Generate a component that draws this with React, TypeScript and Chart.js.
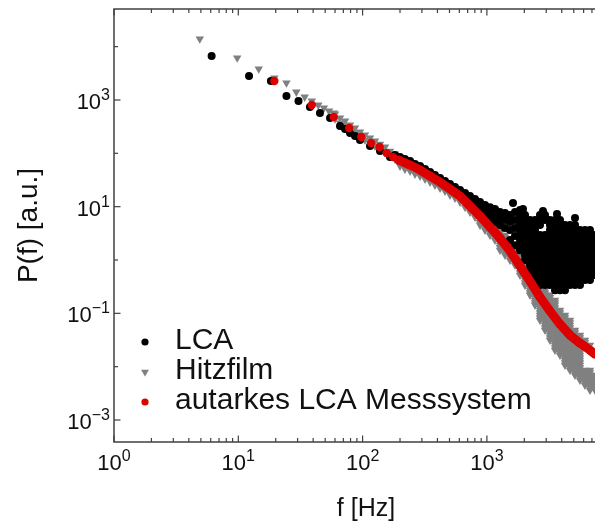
import { useEffect, useRef } from 'react';
import { Chart, registerables } from 'chart.js';

Chart.register(...registerables);

const FONT = '"Liberation Sans", Arial, Helvetica, sans-serif';
const BLACK = '#000000';
const GRAY = '#808080';
const RED = '#dd0000';
const AXIS = '#404040';

// ---- axes ----
const X_MIN = 1;
const X_MAX = 10000;
const Y_MIN = 3.87e-4;
const Y_MAX = 5.08e4;
const xMajorTicks = [1, 10, 100, 1000, 10000];
const xMinorTicks = [2, 3, 4, 5, 6, 7, 8, 9, 20, 30, 40, 50, 60, 70, 80, 90, 200, 300, 400, 500, 600, 700, 800, 900, 2000, 3000, 4000, 5000, 6000, 7000, 8000, 9000];
const xTickValues = [1, 10, 100, 1000];
const xTickExponents = ['0', '1', '2', '3'];
const yTicks = [1e-3, 1e-2, 1e-1, 1, 10, 100, 1000, 10000];
const yTickValues = [1e-3, 1e-1, 10, 1000];
const yTickExponents = ['\u22123', '\u22121', '1', '3'];
const xTitle = 'f [Hz]';
const yTitle = 'P(f) [a.u.]';
const seriesLabels = ['LCA', 'Hitzfilm', 'autarkes LCA Messsystem'];

// ---- LCA (black dots) ----
const lcaLowFreq = [6.1, 12.2, 18.3, 24.4, 30.5];
const lcaLowPower = [6690, 2820, 2270, 1190, 958];
const lcaBandFreq = [37.7, 45.4, 54.7, 65.8, 72.2, 79.2, 86.9, 95.3, 114.7, 138, 166, 182, 200, 219, 241, 264, 290, 318, 349, 382, 420, 460, 505, 554, 608, 667, 731, 802, 880, 965, 1059, 1162, 1275, 1398, 1534, 1622, 1683, 1951];
const lcaBandPower = [
  [738], [570], [460], [326], [286], [241], [212], [178], [137], [110], [85.2], [92.9], [85.2], [78.2], [71.7], [63.0], [57.8], [50.7], [44.6], [39.2], [34.4], [30.3],
  [26.5, 22.3], [23.3, 19.6], [20.5, 16.5], [18.0, 14.5], [15.8, 12.7], [13.9, 10.7],
  [12.2, 9.4, 7.58], [10.7, 8.63, 6.95], [9.8, 7.58, 5.61], [9.0, 6.95, 5.15], [7.92, 6.11, 4.52], [7.58, 5.61, 3.97],
  [6.95, 5.15, 3.64, 2.36], [11.7], [7.92, 5.61, 3.97, 2.81, 1.9], [9.01],
];
const lcaCloudFreq = [1847, 2026, 2222, 2438, 2674, 2826, 2934, 3218, 3531, 3664, 3873, 4249, 4661, 5114, 5610, 6154, 6751, 7407];
const lcaCloudPower = [
  [8.63, 6.95, 5.61, 4.52, 3.64, 2.93, 2.36, 1.9, 1.53],
  [6.95, 5.61, 4.52, 3.64, 2.93, 2.36, 1.9, 1.53, 1.24, 0.996],
  [5.61, 4.52, 3.64, 2.93, 2.36, 1.9, 1.53, 1.24, 0.996, 0.802, 0.647],
  [5.61, 4.52, 3.64, 2.93, 2.36, 1.9, 1.53, 1.24, 0.996, 0.802, 0.647, 0.521, 0.42],
  [6.95, 5.61, 4.52, 2.93, 2.36, 1.9, 1.53, 1.24, 0.996, 0.802, 0.647, 0.521, 0.42, 0.338],
  [8.27],
  [6.95, 5.61, 2.93, 2.36, 1.9, 1.53, 1.24, 0.996, 0.802, 0.647, 0.521, 0.42, 0.338],
  [5.61, 4.52, 3.64, 2.93, 2.36, 1.9, 1.53, 1.24, 0.996, 0.802, 0.647, 0.521, 0.42, 0.338],
  [5.61, 4.52, 3.64, 2.93, 2.36, 1.9, 1.53, 1.24, 0.996, 0.802, 0.647, 0.521, 0.42, 0.338, 0.272],
  [7.26],
  [5.61, 4.52, 3.64, 2.93, 2.36, 1.9, 1.53, 1.24, 0.996, 0.802, 0.647, 0.521, 0.42, 0.338, 0.272],
  [4.52, 3.64, 2.93, 2.36, 1.9, 1.53, 1.24, 0.996, 0.802, 0.647, 0.521, 0.42, 0.338, 0.272],
  [4.52, 3.64, 2.93, 2.36, 1.9, 1.53, 1.24, 0.996, 0.802, 0.647, 0.521, 0.42, 0.338],
  [6.12, 4.52, 3.64, 2.93, 2.36, 1.9, 1.53, 1.24, 0.996, 0.802, 0.647, 0.521, 0.42, 0.338],
  [3.64, 2.93, 2.36, 1.9, 1.53, 1.24, 0.996, 0.802, 0.647, 0.521, 0.42, 0.338],
  [3.64, 2.93, 2.36, 1.9, 1.53, 1.24, 0.996, 0.802, 0.647, 0.521, 0.42],
  [3.64, 2.93, 2.36, 1.9, 1.53, 1.24, 0.996, 0.802, 0.647, 0.521, 0.42],
  [2.93, 2.36, 1.9, 1.53, 1.24, 0.996, 0.802, 0.647, 0.521],
];

// ---- Hitzfilm (gray triangles) ----
const hitzLowFreq = [4.9, 9.8, 14.6, 19.5, 24.4, 29.3, 34.2, 39, 44, 48.8, 53.7, 58.6];
const hitzLowPower = [13950, 6140, 3820, 2590, 2085, 1413, 1138, 958, 805, 708, 622, 571];
const hitzThinFreq = [60, 65.8, 72.2, 79.2, 86.9, 95.3, 104.5, 114.7, 125.8, 138, 151.4, 166, 182, 200, 219, 241, 264, 290, 318, 349, 382, 420, 460, 505, 554, 608, 667, 731, 802];
const hitzThinPower = [
  [546, 441], [460, 371], [404, 326], [340, 274], [299, 241], [251, 203], [221, 178], [194, 156], [170, 137], [149, 120], [131, 105.5], [110, 89], [97, 78.2],
  [68.7, 57.8], [60.3, 50.7], [55.3, 46.5], [48.6, 40.9], [44.6, 37.5], [39.2, 33.0], [34.4, 29.0], [30.3, 25.4], [26.5, 22.3], [23.3, 19.6], [19.6, 16.5], [17.2, 14.5], [14.5, 12.2], [11.7, 9.8], [9.4, 7.92], [7.58, 6.38],
];
const hitzBroadFreq = [880, 965, 1059, 1162, 1275, 1398, 1534, 1683, 1847, 2026, 2222, 2438, 2674, 2934, 3218, 3531, 3873, 4249, 4661, 5114, 5610, 6154, 6751, 7407];
const hitzBroadPower = [
  [8.63, 6.95, 5.61, 4.52],
  [6.95, 5.61, 4.52, 3.64],
  [5.61, 4.52, 3.64, 2.93],
  [4.52, 3.64, 2.93, 2.36],
  [3.64, 2.93, 2.36, 1.9, 1.53],
  [2.93, 2.36, 1.9, 1.53, 1.24],
  [2.36, 1.9, 1.53, 1.24, 0.996],
  [1.9, 1.53, 1.24, 0.996, 0.802],
  [1.24, 0.996, 0.802, 0.647, 0.521],
  [0.996, 0.802, 0.647, 0.521, 0.42, 0.338],
  [0.802, 0.647, 0.521, 0.42, 0.338, 0.272, 0.22],
  [0.647, 0.521, 0.42, 0.338, 0.272, 0.22, 0.177, 0.143],
  [0.42, 0.338, 0.272, 0.22, 0.177, 0.143, 0.115, 0.0925, 0.0745],
  [0.338, 0.272, 0.22, 0.177, 0.143, 0.115, 0.0925, 0.0745, 0.0601, 0.0484],
  [0.22, 0.177, 0.143, 0.115, 0.0925, 0.0745, 0.0601, 0.0484, 0.039, 0.0314],
  [0.177, 0.143, 0.115, 0.0925, 0.0745, 0.0601, 0.0484, 0.039, 0.0314, 0.0253, 0.0204],
  [0.115, 0.0925, 0.0745, 0.0601, 0.0484, 0.039, 0.0314, 0.0253, 0.0204, 0.0164],
  [0.0925, 0.0745, 0.0601, 0.0484, 0.039, 0.0314, 0.0253, 0.0204, 0.0164, 0.0132, 0.0107],
  [0.0745, 0.0601, 0.0484, 0.039, 0.0314, 0.0253, 0.0204, 0.0164, 0.0132, 0.0107, 0.00859],
  [0.0484, 0.039, 0.0314, 0.0253, 0.0204, 0.0164, 0.0132, 0.0107, 0.00859, 0.00693],
  [0.039, 0.0314, 0.0253, 0.0204, 0.0164, 0.0132, 0.0107, 0.00859, 0.00693, 0.00558],
  [0.0314, 0.0253, 0.00859, 0.00693, 0.00558, 0.0045],
  [0.0253, 0.00859, 0.00693, 0.00558, 0.0045, 0.00362],
  [0.00693, 0.00558, 0.0045, 0.00362],
];
const hitzBroadMidPower = [
  [7.75, 6.24, 5.04],
  [6.24, 5.04, 4.06],
  [5.04, 4.06, 3.27],
  [4.06, 3.27, 2.63],
  [3.27, 2.63, 2.12, 1.71],
  [2.63, 2.12, 1.71, 1.37],
  [2.12, 1.71, 1.37, 1.11],
  [1.71, 1.37, 1.11, 0.894],
  [1.11, 0.894, 0.72, 0.581],
  [0.894, 0.72, 0.581, 0.468, 0.377],
  [0.72, 0.581, 0.468, 0.377, 0.303, 0.244],
  [0.581, 0.468, 0.377, 0.303, 0.244, 0.198, 0.159],
  [0.377, 0.303, 0.244, 0.198, 0.159, 0.128, 0.103, 0.083],
  [0.303, 0.244, 0.198, 0.159, 0.128, 0.103, 0.083, 0.0669, 0.054],
  [0.198, 0.159, 0.128, 0.103, 0.083, 0.0669, 0.054, 0.0435, 0.035],
  [0.159, 0.128, 0.103, 0.083, 0.0669, 0.054, 0.0435, 0.035, 0.0282, 0.0227],
  [0.103, 0.083, 0.0669, 0.054, 0.0435, 0.035, 0.0282, 0.0227, 0.0183],
  [0.083, 0.0669, 0.054, 0.0435, 0.035, 0.0282, 0.0227, 0.0183, 0.0147, 0.0119],
  [0.0669, 0.054, 0.0435, 0.035, 0.0282, 0.0227, 0.0183, 0.0147, 0.0119, 0.00959],
  [0.0435, 0.035, 0.0282, 0.0227, 0.0183, 0.0147, 0.0119, 0.00959, 0.00771],
  [0.035, 0.0282, 0.0227, 0.0183, 0.0147, 0.0119, 0.00959, 0.00771, 0.00622],
  [0.0282, 0.00771, 0.00622, 0.00501],
  [0.00771, 0.00622, 0.00501, 0.00404],
  [0.00622, 0.00501, 0.00404],
];

// ---- autarkes LCA Messsystem (red dots) ----
const redFreq = [19.5, 39, 58.5, 78, 97.6, 117, 137, 156, 176, 195, 241, 290, 349, 420, 505, 608, 731, 880, 1059, 1275, 1534, 1847, 2222, 2674, 3218, 3873, 4661, 5610, 6751, 7407];
const redPower = [2270, 805, 480, 298, 202, 156, 131, 101, 85, 74.9, 60.3, 48.6, 37.5, 28.9, 21.4, 15.8, 10.3, 6.66, 4.14, 2.57, 1.47, 0.768, 0.401, 0.201, 0.11, 0.0627, 0.039, 0.0276, 0.0204, 0.0172];

const pairs = (f: number[], p: number[]) => f.map((x, i) => ({ x, y: p[i] }));
const columns = (f: number[], p: number[][]) => f.flatMap((x, i) => p[i].map((y) => ({ x, y })));

function drawPower(ctx: CanvasRenderingContext2D, exp: string, x: number, baseline: number, align: 'center' | 'right') {
  const base = `22px ${FONT}`;
  const sup = `16px ${FONT}`;
  ctx.font = base;
  const wb = ctx.measureText('10').width;
  ctx.font = sup;
  const we = ctx.measureText(exp).width;
  const total = wb + we;
  const start = align === 'center' ? x - total / 2 : x - total;
  ctx.textAlign = 'left';
  ctx.textBaseline = 'alphabetic';
  ctx.fillStyle = '#111';
  ctx.font = base;
  ctx.fillText('10', start, baseline);
  ctx.font = sup;
  ctx.fillText(exp, start + wb, baseline - 9);
}

const decor = {
  id: 'decor',
  afterDatasetsDraw(chart: any) {
    const { ctx, chartArea: a, scales } = chart;
    const xs = scales.x;
    const ys = scales.y;
    ctx.save();
    // frame
    ctx.strokeStyle = AXIS;
    ctx.lineWidth = 1.5;
    ctx.beginPath();
    ctx.rect(a.left, a.top, a.right - a.left, a.bottom - a.top);
    ctx.stroke();
    // x ticks (inside, bottom and top)
    ctx.lineWidth = 1.2;
    const xt = (v: number, len: number) => {
      const px = xs.getPixelForValue(v);
      ctx.beginPath();
      ctx.moveTo(px, a.bottom);
      ctx.lineTo(px, a.bottom - len);
      ctx.moveTo(px, a.top);
      ctx.lineTo(px, a.top + len);
      ctx.stroke();
    };
    xMajorTicks.forEach((v) => xt(v, 6.5));
    xMinorTicks.forEach((v) => xt(v, 4));
    // y ticks
    yTicks.forEach((v) => {
      const py = ys.getPixelForValue(v);
      const len = yTickValues.includes(v) ? 6.5 : 4;
      ctx.beginPath();
      ctx.moveTo(a.left, py);
      ctx.lineTo(a.left + len, py);
      ctx.stroke();
    });
    // tick labels
    xTickValues.forEach((v, i) => drawPower(ctx, xTickExponents[i], xs.getPixelForValue(v), a.bottom + 28, 'center'));
    yTickValues.forEach((v, i) => drawPower(ctx, yTickExponents[i], a.left - 4, ys.getPixelForValue(v) + 9, 'right'));
    // axis titles
    ctx.fillStyle = '#111';
    ctx.font = `25px ${FONT}`;
    ctx.textAlign = 'center';
    ctx.textBaseline = 'alphabetic';
    ctx.fillText(xTitle, a.left + 252, a.bottom + 74);
    ctx.save();
    ctx.translate(29, (a.top + a.bottom) / 2);
    ctx.rotate(-Math.PI / 2);
    ctx.font = `28px ${FONT}`;
    ctx.textBaseline = 'middle';
    ctx.fillText(yTitle, 0, 0);
    ctx.restore();
    // legend
    const lx = a.left + 31;
    chart.data.datasets.forEach((ds: any, i: number) => {
      const ly = a.top + 333 + i * 30;
      ctx.fillStyle = ds.pointBackgroundColor;
      ctx.beginPath();
      if (ds.pointStyle === 'triangle') {
        const r = 4.6;
        ctx.moveTo(lx, ly + r);
        ctx.lineTo(lx - r * 0.866, ly - r * 0.5);
        ctx.lineTo(lx + r * 0.866, ly - r * 0.5);
        ctx.closePath();
      } else {
        ctx.arc(lx, ly, 3.6, 0, Math.PI * 2);
      }
      ctx.fill();
      ctx.fillStyle = '#111';
      ctx.font = `30px ${FONT}`;
      ctx.textAlign = 'left';
      ctx.textBaseline = 'alphabetic';
      ctx.fillText(ds.label, lx + 30, ly + 7);
    });
    ctx.restore();
  },
};

export default function App() {
  const ref = useRef<HTMLCanvasElement>(null);
  useEffect(() => {
    const chart = new Chart(ref.current as HTMLCanvasElement, {
      type: 'scatter',
      data: {
        datasets: [
          {
            label: seriesLabels[0],
            data: [...pairs(lcaLowFreq, lcaLowPower), ...columns(lcaBandFreq, lcaBandPower), ...columns(lcaCloudFreq, lcaCloudPower)],
            pointStyle: 'circle',
            pointRadius: 4,
            pointBackgroundColor: BLACK,
            pointBorderWidth: 0,
            showLine: false,
            order: 1,
          },
          {
            label: seriesLabels[1],
            data: [
              ...pairs(hitzLowFreq, hitzLowPower),
              ...columns(hitzThinFreq, hitzThinPower),
              ...columns(hitzBroadFreq, hitzBroadPower),
              ...columns(hitzBroadFreq, hitzBroadMidPower),
            ],
            pointStyle: 'triangle',
            pointRotation: 180,
            pointRadius: 4.9,
            pointBackgroundColor: GRAY,
            pointBorderWidth: 0,
            showLine: false,
            order: 2,
          },
          {
            label: seriesLabels[2],
            data: pairs(redFreq, redPower),
            pointStyle: 'circle',
            pointRadius: 4.2,
            pointBackgroundColor: RED,
            pointBorderWidth: 0,
            showLine: true,
            borderColor: RED,
            borderWidth: 9,
            borderCapStyle: 'round',
            borderJoinStyle: 'round',
            tension: 0,
            segment: {
              borderColor: (c: any) => (c.p0.parsed.x < 190 ? 'rgba(0,0,0,0)' : undefined),
            },
            order: 0,
          },
        ],
      } as any,
      options: {
        responsive: false,
        animation: false,
        devicePixelRatio: 1,
        events: [],
        layout: { padding: { left: 114, right: 8.8, top: 9, bottom: 81 } },
        plugins: { legend: { display: false }, tooltip: { enabled: false } },
        scales: {
          x: { type: 'logarithmic', min: X_MIN, max: X_MAX, display: false, bounds: 'data' },
          y: { type: 'logarithmic', min: Y_MIN, max: Y_MAX, display: false, bounds: 'data' },
        },
      } as any,
      plugins: [decor],
    });
    return () => chart.destroy();
  }, []);
  return (
    <div style={{ position: 'fixed', left: 0, top: 0, width: 595, height: 523, overflow: 'hidden', background: '#fff' }}>
      <canvas ref={ref} width={620} height={523} style={{ display: 'block', width: 620, height: 523 }} />
    </div>
  );
}
